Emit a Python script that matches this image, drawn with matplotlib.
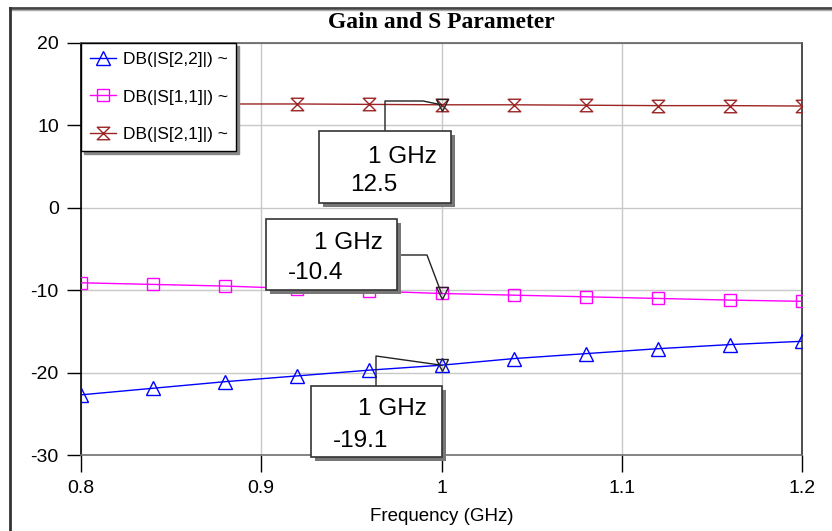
import matplotlib
matplotlib.use("Agg")
import matplotlib.pyplot as plt
from matplotlib.path import Path
from matplotlib.patches import Rectangle
from matplotlib.lines import Line2D
import matplotlib.transforms as mtransforms

plt.rcParams['font.family'] = ['Liberation Sans', 'DejaVu Sans']
plt.rcParams['axes.unicode_minus'] = False

freq = [0.80, 0.84, 0.88, 0.92, 0.96, 1.00, 1.04, 1.08, 1.12, 1.16, 1.20]
s22 = [-22.7, -21.9, -21.1, -20.4, -19.7, -19.1, -18.3, -17.7, -17.1, -16.6, -16.2]
s11 = [-9.1, -9.3, -9.5, -9.8, -10.1, -10.4, -10.6, -10.8, -11.0, -11.2, -11.35]
s21 = [12.65, 12.65, 12.6, 12.6, 12.55, 12.5, 12.5, 12.45, 12.4, 12.4, 12.35]

labels = ['DB(|S[2,2]|) ~', 'DB(|S[1,1]|) ~', 'DB(|S[2,1]|) ~']
colors = ['#0000ff', '#ff00ff', '#9c2424']

marker_freq = 1.0
marker_vals = [12.5, -10.4, -19.1]
marker_text = ['12.5', '-10.4', '-19.1']

xticks = [0.8, 0.9, 1.0, 1.1, 1.2]
xticklabels = ['0.8', '0.9', '1', '1.1', '1.2']
yticks = [20, 10, 0, -10, -20, -30]

W, H = 832, 531
fig = plt.figure(figsize=(W / 100, H / 100), dpi=100)
ax = fig.add_axes([81 / W, 1 - 455 / H, (802 - 81) / W, (455 - 43) / H])
ax.set_xlim(0.8, 1.2)
ax.set_ylim(-30, 20)

hourglass = Path([(-1, 1), (1, 1), (-1, -1), (1, -1), (-1, 1)],
                 [Path.MOVETO, Path.LINETO, Path.LINETO, Path.LINETO, Path.CLOSEPOLY])

l1, = ax.plot(freq, s22, color=colors[0], lw=1, marker='^', ms=10, mfc='none', mew=1, label=labels[0], zorder=3)
l2, = ax.plot(freq, s11, color=colors[1], lw=1, marker='s', ms=9, mfc='none', mew=1, label=labels[1], zorder=3)
l3, = ax.plot(freq, s21, color=colors[2], lw=1, marker=hourglass, ms=9, mfc='none', mew=1, label=labels[2], zorder=3)

ax.set_xticks(xticks)
ax.set_xticklabels(xticklabels)
ax.set_yticks(yticks)
ax.grid(True, color='#c8c8c8', lw=1)
ax.set_axisbelow(True)
ax.tick_params(axis='y', direction='out', length=10, width=1, pad=6, labelsize=14, color='black')
ax.tick_params(axis='x', direction='out', length=12, width=1, pad=6, labelsize=14, color='black')
for side, c in [('left', 'black'), ('right', '#303030'), ('top', '#606060'), ('bottom', '#707070')]:
    ax.spines[side].set_color(c)
    ax.spines[side].set_linewidth(1.2)
ax.set_xlabel('Frequency (GHz)', fontsize=13.5, labelpad=8)

# Legend
leg = ax.legend(handles=[l1, l2, l3], loc='upper left', bbox_to_anchor=(0, 1),
                borderaxespad=0, fancybox=False, frameon=True, edgecolor='black',
                framealpha=1, fontsize=12.5, handlelength=1.5, handletextpad=0.4,
                labelspacing=1.3, borderpad=0.5, shadow={'color': '#888888', 'alpha': 1})
leg.get_frame().set_linewidth(1.0)
leg.set_zorder(10)

# Marker annotations
def px2d(px, py):
    return 0.8 + (px - 81) / 721 * 0.4, 20 - (py - 43) / 8.24

boxes = [
    dict(box=(319, 131, 451, 203), t1=(437, 157), t2=(350, 185),
         leader=[(385, 131), (385, 101), (423, 101)]),
    dict(box=(266, 219, 397, 290), t1=(383, 243), t2=(288, 273),
         leader=[(397, 255), (427, 255)]),
    dict(box=(311, 386, 442, 457), t1=(427, 409), t2=(333, 441),
         leader=[(376, 386), (376, 356)]),
]
shadow_tr = mtransforms.offset_copy(ax.transData, fig=fig, x=4, y=-4, units='dots')
for b, val, txt in zip(boxes, marker_vals, marker_text):
    x0, y0 = px2d(b['box'][0], b['box'][3])
    x1, y1 = px2d(b['box'][2], b['box'][1])
    sh = Rectangle((x0, y0), x1 - x0, y1 - y0, facecolor='#777777', edgecolor='none',
                   transform=shadow_tr, zorder=6, clip_on=False)
    ax.add_patch(sh)
    r = Rectangle((x0, y0), x1 - x0, y1 - y0, facecolor='white', edgecolor='#333333',
                  lw=1.2, zorder=7, clip_on=False)
    ax.add_patch(r)
    tx, ty = px2d(*b['t1'])
    ax.text(tx, ty, '1 GHz', ha='right', va='center', fontsize=17.5, zorder=8)
    tx, ty = px2d(*b['t2'])
    ax.text(tx, ty, txt, ha='left', va='center', fontsize=17.5, zorder=8)
    pts = [px2d(*p) for p in b['leader']] + [(marker_freq, val)]
    ax.plot([p[0] for p in pts], [p[1] for p in pts], color='#222222', lw=1, zorder=5, clip_on=False)
    ax.plot([marker_freq], [val], marker='v', ms=8, mfc='none', mec='#222222', mew=1, zorder=5)

# Title
fig.text(441 / W, 1 - 22 / H, 'Gain and S Parameter', ha='center', va='center',
         fontsize=17, fontweight='bold', family='Liberation Serif')

# Outer frame lines
fig.add_artist(Line2D([10 / W, 1], [1 - 8 / H, 1 - 8 / H], color='#444444', lw=2, transform=fig.transFigure))
fig.add_artist(Line2D([10 / W, 1], [1 - 10 / H, 1 - 10 / H], color='#aaaaaa', lw=1, transform=fig.transFigure))
fig.add_artist(Line2D([10 / W, 10 / W], [0, 1 - 8 / H], color='#333333', lw=2, transform=fig.transFigure))

fig.savefig('out.png', dpi=100)
